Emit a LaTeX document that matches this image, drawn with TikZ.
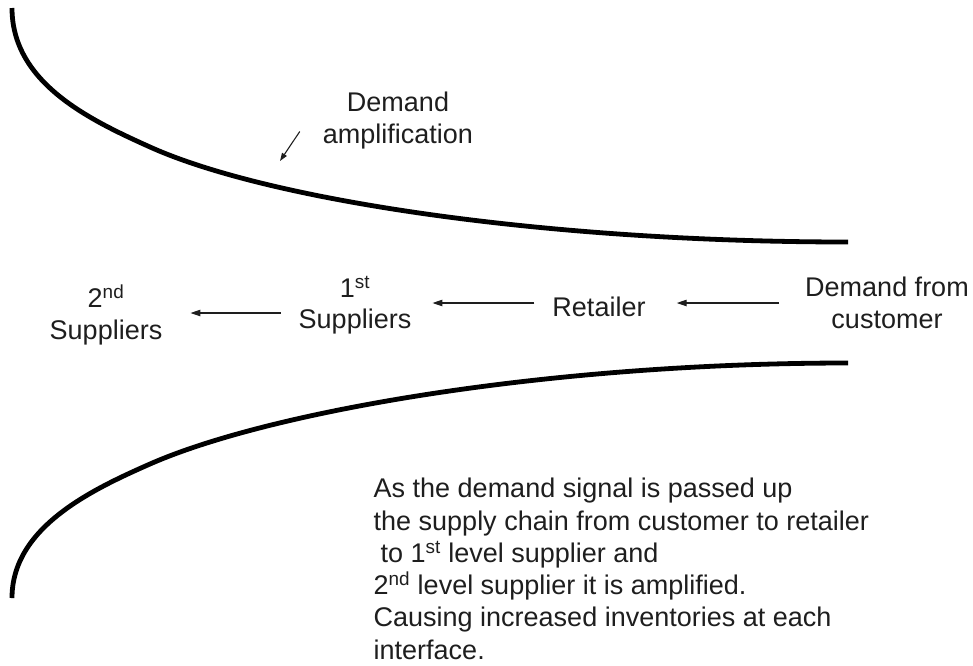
\documentclass[tikz,border=0pt]{standalone}
\usepackage{fontspec}
\setmainfont{Liberation Sans}
\usetikzlibrary{arrows.meta}
\definecolor{ink}{HTML}{1E1E1E}
\tikzset{
  label/.style={inner sep=0pt, text=ink, align=center,
    font=\fontsize{27}{31.5}\selectfont},
  funnel/.style={line width=4.8pt, draw=black, line cap=butt},
  flow/.style={draw=ink, line width=1.1pt,
    -{Triangle[length=10pt,width=6.5pt]}},
}
\begin{document}
\begin{tikzpicture}[x=1pt,y=-1pt]
  \useasboundingbox (0,0) rectangle (973,665);

  % upper and lower walls of the amplification funnel
  \draw[funnel] (12,8) .. controls (12,83) and (90,120) .. (150,147)
                       .. controls (270,201) and (548,242) .. (848,242);
  \draw[funnel] (12,598) .. controls (12,528) and (90,490.4) .. (150,464)
                         .. controls (270,411.2) and (548,363) .. (848,363);

  % stages of the chain
  \node[label] (cust) at (887,303) {Demand from\\customer};
  \node[label, anchor=base] (ret) at (599,316.7) {Retailer};
  \node[label] (sup1) at (355,305) {1\textsuperscript{st}\\Suppliers};
  \node[label] (sup2) at (106,315) {2\textsuperscript{nd}\\Suppliers};

  % demand signal passed upstream
  \draw[flow] ([xshift=-26pt]cust.west) -- ([xshift=31pt]ret.east |- cust.west);
  \draw[flow] ([xshift=-18pt]ret.west |- cust.west) -- ([xshift=21pt]sup1.east |- cust.west);
  \draw[flow] ([xshift=-18pt]sup1.west |- 0,313) -- ([xshift=28pt]sup2.east |- 0,313);

  % amplification callout
  \node[label] (amp) at (398,120.5) {Demand\\amplification};
  \coordinate (ampTip) at (280,161);
  \draw[flow, -{Triangle[length=8pt,width=5.5pt]}]
    ([shift={(-23pt,-11pt)}]amp.west) -- (ampTip);

  % explanatory note
  \node[label, align=left, anchor=north west,
        font=\fontsize{27}{32.3}\selectfont] (note) at (373.5,478) {%
    As the demand signal is passed up\\
    the supply chain from customer to retailer\\
    \hspace*{7pt}to 1\textsuperscript{st} level supplier and\\
    2\textsuperscript{nd} level supplier it is amplified.\\
    Causing increased inventories at each\\
    interface.};
\end{tikzpicture}
\end{document}
